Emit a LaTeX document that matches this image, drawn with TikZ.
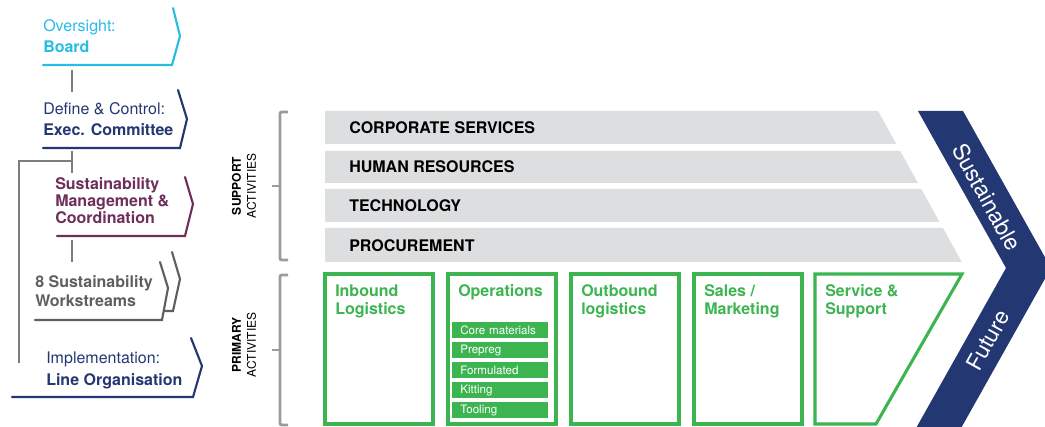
\documentclass[tikz,border=0pt]{standalone}
\usepackage{fontspec}
\setmainfont{TeX Gyre Heros}
\usetikzlibrary{positioning}
\definecolor{ChainNavy}{RGB}{35,55,115}
\definecolor{ChainCyan}{RGB}{40,188,228}
\definecolor{ChainPurple}{RGB}{110,45,90}
\definecolor{ChainGray}{RGB}{95,95,95}
\definecolor{ChainLine}{RGB}{125,125,125}
\definecolor{ChainBrace}{RGB}{155,155,160}
\definecolor{ChainBar}{RGB}{221,222,224}
\definecolor{ChainGreen}{RGB}{60,180,80}
\tikzset{
  govtext/.style={anchor=base west, align=left, inner sep=0pt,
                  font=\fontsize{12}{15.75}\selectfont},
  govframe/.style={line width=1.6pt, line cap=round, line join=miter},
  link/.style={ChainLine, line width=0.8pt},
  brace/.style={ChainBrace, line width=2.2pt, rounded corners=1.5pt},
  sidelabel/.style={rotate=90, align=center, inner sep=0pt,
                  font=\fontsize{9}{11.25}\selectfont},
  supbar/.style={fill=ChainBar},
  suptext/.style={anchor=base west, inner sep=0pt, font=\fontsize{12}{14}\selectfont\bfseries},
  primbox/.style={draw=ChainGreen, line width=2.3pt},
  primtitle/.style={anchor=base west, align=left, inner sep=0pt, text=ChainGreen,
                  font=\fontsize{12}{13.5}\selectfont\bfseries},
  opitem/.style={fill=ChainGreen, text=white, anchor=north west, align=left,
                  text width=60pt, inner xsep=6pt, inner ysep=0pt, minimum height=12pt,
                  font=\fontsize{8.7}{10}\selectfont},
  arrowtext/.style={text=white, inner sep=0pt, font=\fontsize{17}{20}\selectfont},
}

\begin{document}
\begin{tikzpicture}[x=0.75pt, y=-0.75pt]
  \useasboundingbox (0,0) rectangle (1045,427);

  % ------------------------------------------------------------------ governance
  % text nodes are placed by the baseline of their last line
  \node[govtext, text=ChainCyan] (board) at (43,53) {Oversight:\\\textbf{Board}};
  \draw[govframe, ChainCyan] (43,65) -- (172,65) -- (180,36) -- (173,8);

  \node[govtext, text=ChainNavy] (exec) at (43,136) {Define \& Control:\\\textbf{Exec. Committee}};
  \draw[govframe, ChainNavy] (43,148) -- (180,148) -- (187,119) -- (178,90);

  \node[govtext, text=ChainPurple, font=\fontsize{12}{12.75}\selectfont\bfseries] (sustmgmt) at (55,224)
    {Sustainability\\Management \&\\Coordination};
  \draw[govframe, ChainPurple] (57,236) -- (185,236) -- (193,204) -- (185,177);

  \node[govtext, text=ChainGray, font=\fontsize{12}{14.25}\selectfont\bfseries] (workstr) at (35,307)
    {8 Sustainability\\Workstreams};
  \draw[govframe, ChainGray] (35,320) -- (162,320) -- (168,288) -- (160,262);
  \draw[govframe, ChainGray] (164,311) -- (173,311) -- (180,279) -- (172,252);

  \node[govtext, text=ChainNavy, font=\fontsize{12}{16.5}\selectfont] (lineorg) at (46,385)
    {Implementation:\\\textbf{Line Organisation}};
  \draw[govframe, ChainNavy] (12,397) -- (193,397) -- (202,366) -- (191,338);

  % links between the levels
  \coordinate (boardfoot) at (72,70);
  \coordinate (exectop) at (72,92);
  \coordinate (execfoot) at (72,151);
  \coordinate (sustop) at (72,173);
  \coordinate (branch) at (72,161);
  \coordinate (lineorgtop) at (19,363);
  \coordinate (sustfoot) at (72,240);
  \coordinate (wstop) at (72,262);
  \draw[link] (boardfoot) -- (exectop);
  \draw[link] (execfoot) -- (sustop);
  \draw[link] (branch) -| (lineorgtop);
  \draw[link] (sustfoot) -- (wstop);

  % ------------------------------------------------------------------ support activities
  \draw[brace] (288,112) -- (280,112) -- (280,260) -- (288,260);
  \draw[brace] (280,186) -- (272,186);
  \node[sidelabel] (suplab) at (244,186) {\textbf{SUPPORT}\\ACTIVITIES};
  \foreach \n/\ytop/\ybot/\lab in {1/111/144/CORPORATE SERVICES, 2/151/183/HUMAN RESOURCES,
                                   3/189/222/TECHNOLOGY, 4/228/262/PROCUREMENT}{
    \fill[supbar] (325,\ytop) -- ({878+0.555*(\ytop-111)},\ytop)
      -- ({878+0.555*(\ybot-111)},\ybot) -- (325,\ybot) -- cycle;
    \node[suptext] (bar\n) at (349,\ybot-10) {\lab};
  }

  % ------------------------------------------------------------------ primary activities
  \draw[brace] (288,275) -- (280,275) -- (280,425) -- (288,425);
  \draw[brace] (280,350) -- (272,350);
  \node[sidelabel] (primlab) at (244,345) {\textbf{PRIMARY}\\ACTIVITIES};
  \foreach \n/\x/\yb/\lab in {1/325/315/{Inbound\\Logistics}, 2/448/297/{Operations},
                              3/571/315/{Outbound\\logistics}, 4/694/315/{Sales /\\Marketing}}{
    \draw[primbox] (\x,274) rectangle (\x+108,424);
    \node[primtitle] (prim\n) at (\x+10,\yb) {\lab};
  }
  \draw[primbox] (815,274) -- (962,274) -- (876,424) -- (815,424) -- cycle;
  \node[primtitle] (prim5) at (825,315) {Service \&\\Support};
  % operations sub-units
  \foreach \i/\lab in {0/Core materials, 1/Prepreg, 2/Formulated, 3/Kitting, 4/Tooling}{
    \node[opitem] (op\i) at (452,322+\i*20) {\lab};
  }

  % ------------------------------------------------------------------ chevron
  \fill[ChainNavy] (918,111) -- (963,111) -- (1051,268) -- (960,430) -- (915,430)
    -- (1006,268) -- cycle;
  \node[arrowtext, rotate=-61] (sustain) at (987,197) {Sustainable};
  \node[arrowtext, rotate=61] (future) at (988,340) {Future};
\end{tikzpicture}
\end{document}
